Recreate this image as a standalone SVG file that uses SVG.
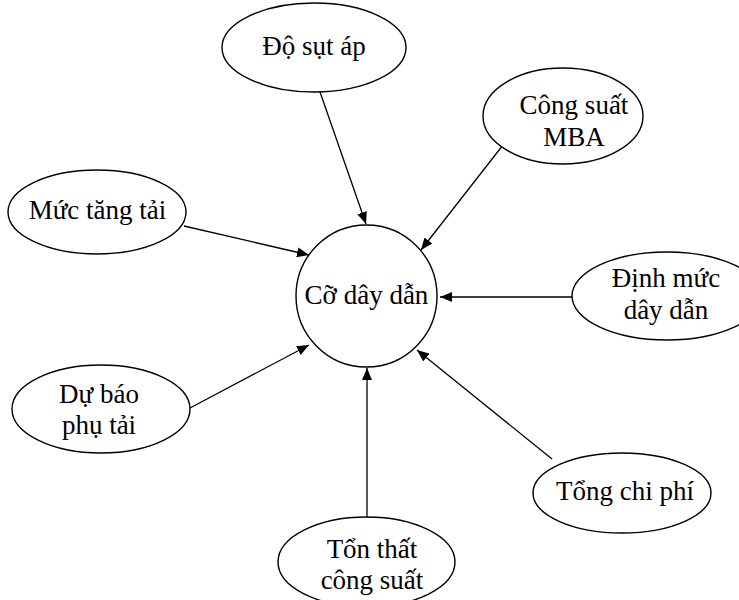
<svg xmlns="http://www.w3.org/2000/svg" width="739" height="600" viewBox="0 0 739 600">
<style>
.n{fill:#fff;stroke:#000;stroke-width:1.4}
.t{font-family:"Liberation Serif","Times New Roman",serif;font-size:27px;fill:#000;text-anchor:middle}
.c{stroke:#000;stroke-width:1.3;fill:none;marker-end:url(#ah)}
</style>
<defs>
<marker id="ah" viewBox="0 0 12 10" refX="12" refY="5" markerWidth="12" markerHeight="10" markerUnits="userSpaceOnUse" orient="auto">
<path d="M0,0 L12,5 L0,10 z" fill="#000"/>
</marker>
</defs>
<rect width="739" height="600" fill="#fff"/>
<g id="connectors">
<line class="c" x1="320" y1="92" x2="366" y2="224"/>
<line class="c" x1="503" y1="145" x2="421" y2="250"/>
<line class="c" x1="184" y1="226" x2="309" y2="255"/>
<line class="c" x1="572" y1="297" x2="440" y2="297"/>
<line class="c" x1="190" y1="408" x2="309" y2="345"/>
<line class="c" x1="552" y1="459" x2="417" y2="350"/>
<line class="c" x1="367" y1="517" x2="367" y2="368"/>
</g>
<g id="center">
<ellipse class="n" cx="366.5" cy="296" rx="70.5" ry="71"/>
<text class="t" x="366.5" y="304">Cỡ dây dẫn</text>
</g>
<g id="do-sut-ap">
<ellipse class="n" cx="314" cy="47.5" rx="92" ry="44.5"/>
<text class="t" x="314" y="55">Độ sụt áp</text>
</g>
<g id="cong-suat-mba">
<ellipse class="n" cx="563" cy="116" rx="80" ry="48"/>
<text class="t" x="574" y="114">Công suất</text>
<text class="t" x="574" y="146">MBA</text>
</g>
<g id="muc-tang-tai">
<ellipse class="n" cx="97" cy="212" rx="89" ry="42"/>
<text class="t" x="97.5" y="219">Mức tăng tải</text>
</g>
<g id="dinh-muc">
<ellipse class="n" cx="667" cy="296" rx="95" ry="44"/>
<text class="t" x="666" y="287">Định mức</text>
<text class="t" x="666" y="319">dây dẫn</text>
</g>
<g id="du-bao">
<ellipse class="n" cx="101" cy="409" rx="89" ry="44"/>
<text class="t" x="99" y="403">Dự báo</text>
<text class="t" x="99" y="434">phụ tải</text>
</g>
<g id="tong-chi-phi">
<ellipse class="n" cx="622" cy="493" rx="89" ry="40"/>
<text class="t" x="625" y="500">Tổng chi phí</text>
</g>
<g id="ton-that">
<ellipse class="n" cx="366.5" cy="562" rx="88.5" ry="45"/>
<text class="t" x="372" y="558">Tổn thất</text>
<text class="t" x="372" y="589">công suất</text>
</g>
</svg>
